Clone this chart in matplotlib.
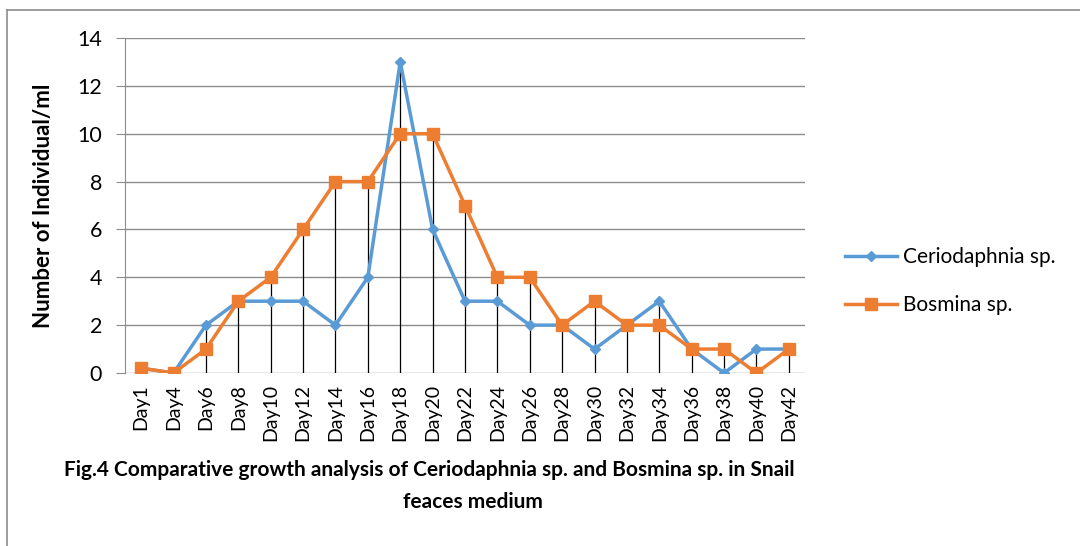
import matplotlib.pyplot as plt
from matplotlib.lines import Line2D

days = ["Day1", "Day4", "Day6", "Day8", "Day10", "Day12", "Day14", "Day16", "Day18",
        "Day20", "Day22", "Day24", "Day26", "Day28", "Day30", "Day32", "Day34",
        "Day36", "Day38", "Day40", "Day42"]
ceriodaphnia = [0.2, 0, 2, 3, 3, 3, 2, 4, 13, 6, 3, 3, 2, 2, 1, 2, 3, 1, 0, 1, 1]
bosmina = [0.2, 0, 1, 3, 4, 6, 8, 8, 10, 10, 7, 4, 4, 2, 3, 2, 2, 1, 1, 0, 1]

blue = "#5B9BD5"
orange = "#ED7D31"
font = "Lato"
W, H = 1080, 546

fig = plt.figure(figsize=(10.8, 5.46), dpi=100)
ax = fig.add_axes([125 / W, 1 - 373 / H, (805 - 125) / W, (373 - 38) / H])

x = list(range(len(days)))

# drop lines from the axis up to the higher of the two series
tops = [max(a, b) for a, b in zip(ceriodaphnia, bosmina)]
ax.vlines(x, 0, tops, color="black", linewidth=0.9, zorder=2)

ax.plot(x, ceriodaphnia, color=blue, linewidth=2.5, marker="D", markersize=5,
        label="Ceriodaphnia sp.", zorder=3)
ax.plot(x, bosmina, color=orange, linewidth=2.5, marker="s", markersize=9,
        label="Bosmina sp.", zorder=4)

ax.set_xlim(-0.5, len(days) - 0.5)
ax.set_ylim(0, 14)
ax.set_yticks(range(0, 15, 2))
ax.grid(axis="y", color="#8c8c8c", linewidth=1)
ax.set_axisbelow(True)
for s in ["top", "right", "bottom"]:
    ax.spines[s].set_visible(False)
ax.spines["left"].set_color("#8c8c8c")
ax.tick_params(axis="y", length=6.5, color="#8c8c8c", labelsize=15.5, pad=10)
ax.tick_params(axis="x", length=0, labelsize=14, pad=8)
ax.set_xticks(x)
ax.set_xticklabels(days, rotation=90, fontfamily=font)
for lbl in ax.get_yticklabels():
    lbl.set_fontfamily(font)

ax.set_ylabel("Number of Individual/ml", fontsize=16, fontweight="bold",
              fontfamily=font)
ax.yaxis.set_label_coords((54 - 125) / (805 - 125), (373 - 206) / (373 - 38))

handles = [Line2D([], [], color=blue, linewidth=2.5, marker="D", markersize=5),
           Line2D([], [], color=orange, linewidth=2.5, marker="s", markersize=9)]
fig.legend(handles, ["Ceriodaphnia sp.", "Bosmina sp."], loc="center left",
           bbox_to_anchor=(845 / W, 1 - 281 / H), frameon=False,
           prop={"family": font, "size": 15}, handlelength=2.5,
           handletextpad=0.3, labelspacing=1.35, borderpad=0, borderaxespad=0)

fig.text(429 / W, 1 - 470 / H,
         "Fig.4 Comparative growth analysis of Ceriodaphnia sp. and Bosmina sp. in Snail",
         ha="center", va="center", fontsize=15, fontweight="bold", fontfamily=font)
fig.text(473 / W, 1 - 502 / H, "feaces medium", ha="center", va="center",
         fontsize=15, fontweight="bold", fontfamily=font)

# frame lines along the top and left edge
fig.add_artist(Line2D([7 / W, 1], [1 - 10 / H, 1 - 10 / H],
                      transform=fig.transFigure, color="#8c8c8c", linewidth=1.2))
fig.add_artist(Line2D([7 / W, 7 / W], [0, 1 - 10 / H],
                      transform=fig.transFigure, color="#8c8c8c", linewidth=1.2))

fig.savefig("out.png", dpi=100)
